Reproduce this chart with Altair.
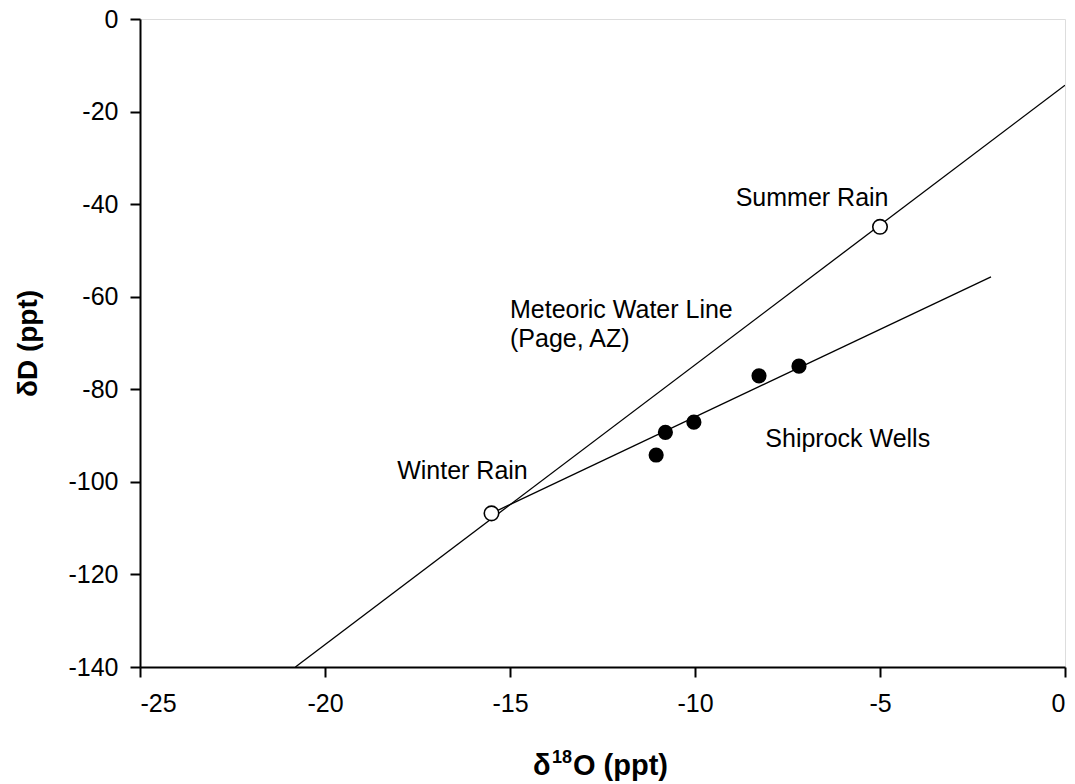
import altair as alt
import pandas as pd

# Data
well_d18o = [-11.05, -10.8, -10.03, -8.27, -7.19]
well_dD = [-94.2, -89.3, -87.1, -77.1, -75.0]

rain_names = ["Winter Rain", "Summer Rain"]
rain_d18o = [-15.5, -5.0]
rain_dD = [-106.8, -44.9]

# Meteoric water line end points
mwl_x = [-20.8, 0.0]
mwl_y = [-140.0, -14.3]

# Shiprock wells line end points
well_line_x = [-15.5, -2.0]
well_line_y = [-106.8, -55.7]

ann_text = ["Summer Rain", "Meteoric Water Line", "(Page, AZ)", "Winter Rain", "Shiprock Wells"]
ann_x = [-8.9, -15.0, -15.0, -18.05, -8.1]
ann_y = [-40.4, -64.7, -70.8, -99.4, -92.5]

x_ticks = [-25, -20, -15, -10, -5, 0]
y_ticks = [0, -20, -40, -60, -80, -100, -120, -140]

x_title_parts = ["δ", "18", "O (ppt)"]
y_title = "δD  (ppt)"

wells = pd.DataFrame({"x": well_d18o, "y": well_dD})
rain = pd.DataFrame({"name": rain_names, "x": rain_d18o, "y": rain_dD})
mwl = pd.DataFrame({"x": mwl_x, "y": mwl_y})
wline = pd.DataFrame({"x": well_line_x, "y": well_line_y})
ann = pd.DataFrame({"t": ann_text, "x": ann_x, "y": ann_y})

FONT = "Liberation Sans"

xscale = alt.Scale(domain=[-25, 0], nice=False, zero=False)
yscale = alt.Scale(domain=[-140, 0], nice=False, zero=False)

xaxis = alt.Axis(
    values=x_ticks, title="", grid=False, labelExpr="'' + datum.value",
    domainColor="black", domainWidth=2, tickColor="black", tickWidth=2, tickSize=10,
    labelFont=FONT, labelFontSize=25, labelColor="black", labelPadding=14,
)
yaxis = alt.Axis(
    values=y_ticks, title=y_title, grid=False, labelExpr="'' + datum.value",
    domainColor="black", domainWidth=2, tickColor="black", tickWidth=2, tickSize=10,
    labelFont=FONT, labelFontSize=25, labelColor="black", labelPadding=12,
    titleFont=FONT, titleFontSize=28, titleFontWeight="bold", titleColor="black",
    titleX=-112, titleBaseline="middle",
)

X = alt.X("x:Q", scale=xscale, axis=xaxis)
Y = alt.Y("y:Q", scale=yscale, axis=yaxis)

mwl_line = alt.Chart(mwl).mark_line(color="black", strokeWidth=1.3, clip=True).encode(x=X, y=Y)
well_line = alt.Chart(wline).mark_line(color="black", strokeWidth=1.3).encode(x=X, y=Y)
well_pts = alt.Chart(wells).mark_point(
    shape="circle", filled=True, color="black", size=230, opacity=1
).encode(x=X, y=Y)
rain_pts = alt.Chart(rain).mark_point(
    shape="circle", filled=True, fill="white", stroke="black", strokeWidth=1.6, size=210, opacity=1
).encode(x=X, y=Y)
labels = alt.Chart(ann).mark_text(
    align="left", baseline="alphabetic", font=FONT, fontSize=25, color="black"
).encode(x=X, y=Y, text="t:N")

# x-axis title with a real superscript
t1 = alt.Chart(pd.DataFrame({"t": [x_title_parts[0]]})).mark_text(
    align="left", baseline="alphabetic", font=FONT, fontSize=29, fontWeight="bold", color="black"
).encode(x=alt.value(393), y=alt.value(756), text="t:N")
t2 = alt.Chart(pd.DataFrame({"t": [x_title_parts[1]]})).mark_text(
    align="left", baseline="alphabetic", font=FONT, fontSize=18, fontWeight="bold", color="black"
).encode(x=alt.value(412), y=alt.value(744), text="t:N")
t3 = alt.Chart(pd.DataFrame({"t": [x_title_parts[2]]})).mark_text(
    align="left", baseline="alphabetic", font=FONT, fontSize=29, fontWeight="bold", color="black"
).encode(x=alt.value(433), y=alt.value(756), text="t:N")

chart = alt.layer(mwl_line, well_line, well_pts, rain_pts, labels, t1, t2, t3).properties(
    width=925, height=648,
    padding={"left": 140, "top": 19, "right": 10, "bottom": 117},
    autosize="none",
).configure_view(
    stroke="black", strokeWidth=2
).configure(background="white")

chart.save("out.html", embed_options={"renderer": "svg", "actions": False})
